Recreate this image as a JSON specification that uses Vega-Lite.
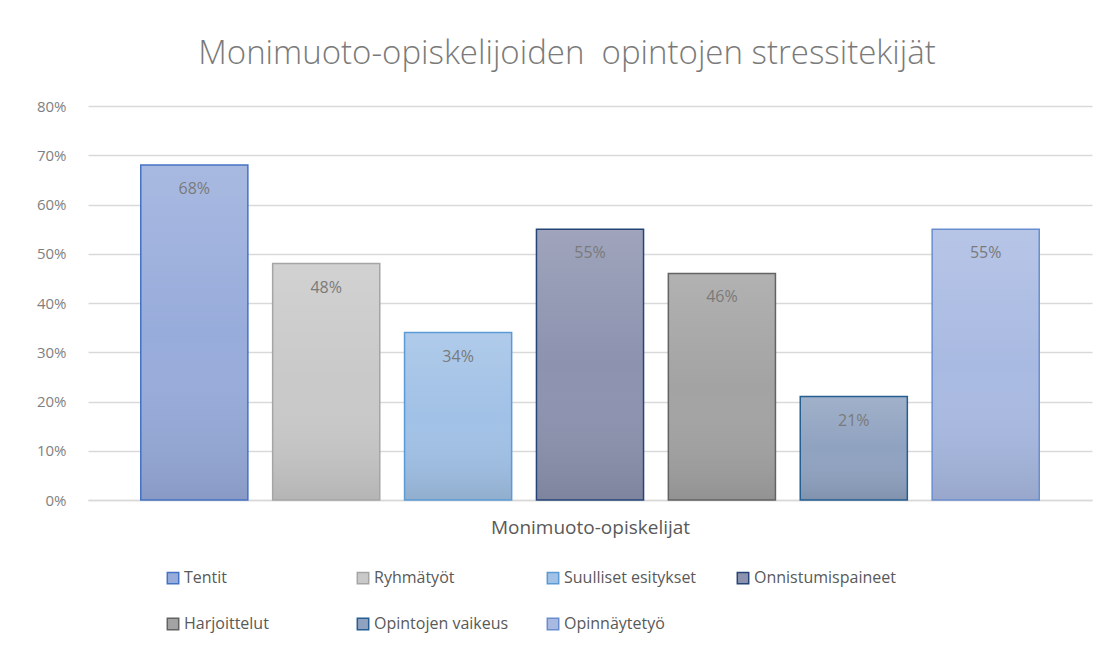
{
  "$schema": "https://vega.github.io/schema/vega-lite/v6.json",
  "width": 1004,
  "height": 394,
  "autosize": {"type": "none"},
  "padding": {"left": 88, "top": 106, "right": 27, "bottom": 152},
  "background": "white",
  "config": {"font": "Open Sans", "view": {"stroke": null}},
  "title": {
    "text": "Monimuoto-opiskelijoiden\u00a0 opintojen stressitekijät",
    "fontSize": 33,
    "fontWeight": 300,
    "color": "#7a7a7a",
    "anchor": "middle",
    "dx": -23,
    "offset": 28
  },
  "data": {
    "values": [
      {"tekija": "Tentit", "osuus": 0.68},
      {"tekija": "Ryhmätyöt", "osuus": 0.48},
      {"tekija": "Suulliset esitykset", "osuus": 0.34},
      {"tekija": "Onnistumispaineet", "osuus": 0.55},
      {"tekija": "Harjoittelut", "osuus": 0.46},
      {"tekija": "Opintojen vaikeus", "osuus": 0.21},
      {"tekija": "Opinnäytetyö", "osuus": 0.55}
    ]
  },
  "encoding": {
    "x": {
      "field": "tekija",
      "type": "nominal",
      "sort": null,
      "scale": {"paddingInner": 0.188, "paddingOuter": 0.4},
      "axis": {
        "title": "Monimuoto-opiskelijat",
        "titleFontSize": 19,
        "titleFontWeight": "normal",
        "titleColor": "#595959",
        "titlePadding": 18,
        "labels": false,
        "ticks": false,
        "domain": true,
        "domainColor": "#d9d9d9",
        "domainWidth": 1.5
      }
    },
    "y": {
      "field": "osuus",
      "type": "quantitative",
      "scale": {"domain": [0, 0.8]},
      "axis": {
        "title": null,
        "format": ".0%",
        "values": [0, 0.1, 0.2, 0.3, 0.4, 0.5, 0.6, 0.7, 0.8],
        "labelFontSize": 15,
        "labelColor": "#7f7f7f",
        "labelPadding": 22,
        "ticks": false,
        "domain": false,
        "gridColor": "#d9d9d9",
        "gridWidth": 1.3
      }
    }
  },
  "layer": [
    {
      "mark": {"type": "bar"},
      "encoding": {
        "fill": {
          "field": "tekija",
          "type": "nominal",
          "scale": {
            "domain": ["Tentit", "Ryhmätyöt", "Suulliset esitykset", "Onnistumispaineet", "Harjoittelut", "Opintojen vaikeus", "Opinnäytetyö"],
            "range": ["#98acdb", "#c9c9c9", "#a1c1e6", "#8d93af", "#a3a3a3", "#8fa2c0", "#a9bae2"]
          },
          "legend": {
            "title": null,
            "orient": "none",
            "legendX": 77,
            "legendY": 464,
            "direction": "horizontal",
            "columns": 4,
            "gridAlign": "all",
            "columnPadding": 28,
            "rowPadding": 28,
            "symbolType": "square",
            "symbolSize": 130,
            "symbolStrokeWidth": 1.5,
            "labelFontSize": 16,
            "labelColor": "#595959",
            "labelOffset": 3,
            "labelLimit": 300
          }
        }
      }
    },
    {
      "mark": {
        "type": "bar",
        "strokeWidth": 1.5,
        "fill": {"gradient": "linear", "x1": 0, "y1": 0, "x2": 0, "y2": 1, "stops": [{"offset": 0, "color": "rgba(255,255,255,0.16)"}, {"offset": 0.5, "color": "rgba(255,255,255,0)"}, {"offset": 1, "color": "rgba(0,0,0,0.1)"}]}
      },
      "encoding": {
        "stroke": {
          "field": "tekija",
          "type": "nominal",
          "scale": {
            "domain": ["Tentit", "Ryhmätyöt", "Suulliset esitykset", "Onnistumispaineet", "Harjoittelut", "Opintojen vaikeus", "Opinnäytetyö"],
            "range": ["#4472c4", "#a5a5a5", "#5b9bd5", "#264478", "#636363", "#255e91", "#698ed0"]
          },
          "legend": {
            "title": null,
            "orient": "none",
            "legendX": 77,
            "legendY": 464,
            "direction": "horizontal",
            "columns": 4,
            "gridAlign": "all",
            "columnPadding": 28,
            "rowPadding": 28,
            "symbolType": "square",
            "symbolSize": 130,
            "symbolStrokeWidth": 1.5,
            "labelFontSize": 16,
            "labelColor": "#595959",
            "labelOffset": 3,
            "labelLimit": 300
          }
        }
      }
    },
    {
      "mark": {"type": "text", "baseline": "middle", "dy": 24, "fontSize": 16, "color": "#7a7a7a"},
      "encoding": {
        "text": {"field": "osuus", "type": "quantitative", "format": ".0%"}
      }
    }
  ]
}
